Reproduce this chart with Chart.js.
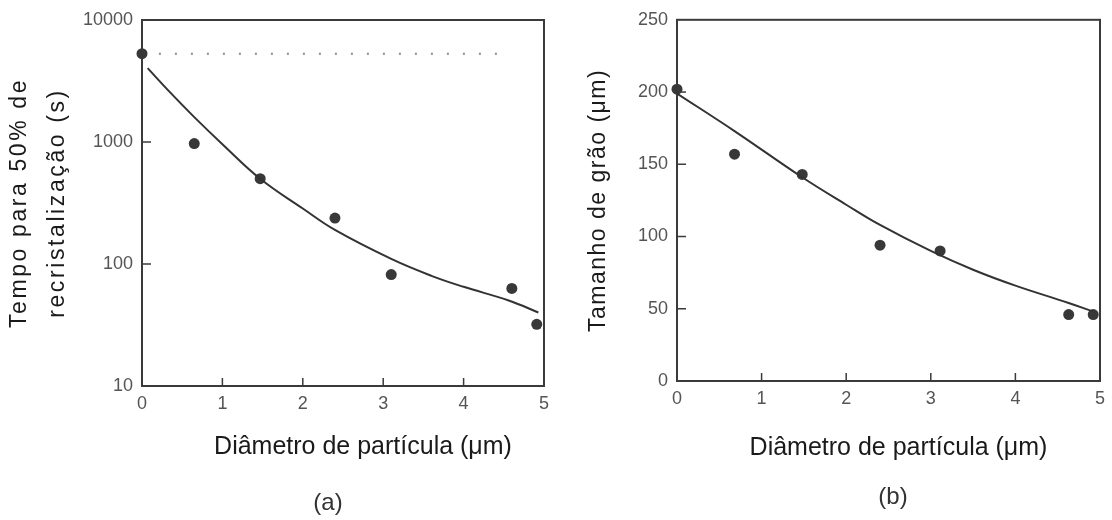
<!DOCTYPE html>
<html>
<head>
<meta charset="utf-8">
<script src="https://cdn.jsdelivr.net/npm/chart.js@4/dist/chart.umd.min.js"></script>
<style>
  html, body { margin: 0; padding: 0; background: #ffffff; }
  #wrap { position: relative; width: 1112px; height: 520px; background: #ffffff; }
  canvas { position: absolute; top: 0; }
  #ca { left: 0; }
  #cb { left: 556px; }
</style>
</head>
<body>
<div id="wrap">
  <canvas id="ca" width="556" height="520"></canvas>
  <canvas id="cb" width="556" height="520"></canvas>
</div>
<script>
// ---------- data: panel (a) ----------
const xA_points = [0, 0.65, 1.47, 2.40, 3.10, 4.60, 4.91];
const yA_points = [5300, 970, 500, 238, 82, 63, 32];
const xA_curve  = [0.07, 0.35, 0.65, 1.0, 1.47, 2.0, 2.4, 3.1, 3.6, 4.0, 4.57, 4.93];
const yA_curve  = [4030, 2550, 1600, 960, 500, 285, 190, 110, 80, 65, 50, 40];
const xA_ref    = [0.21, 4.57];
const yA_ref    = [5300, 5300];
const xA_ticks  = [0, 1, 2, 3, 4, 5];
const yA_ticks  = [10, 100, 1000, 10000];

// ---------- data: panel (b) ----------
const xB_points = [0, 0.68, 1.48, 2.40, 3.11, 4.63, 4.92];
const yB_points = [202, 157, 143, 94, 90, 46, 46];
const xB_curve  = [0, 0.68, 1.48, 2.0, 2.4, 3.0, 3.5, 4.0, 4.63, 4.92];
const yB_curve  = [199, 173, 141, 122, 108, 90, 77, 66, 54, 48];
const xB_ticks  = [0, 1, 2, 3, 4, 5];
const yB_ticks  = [0, 50, 100, 150, 200, 250];

// ---------- texts ----------
const yTitleA = ["Tempo para 50% de", "recristalização (s)"];
const yTitleB = "Tamanho de grão (μm)";
const xTitle  = "Diâmetro de partícula (μm)";
const labelA  = "(a)";
const labelB  = "(b)";

const FONT = "'Liberation Sans', Arial, Helvetica, sans-serif";
Chart.defaults.font.family = FONT;

// scale subclasses that allow letter-spaced / shifted axis titles
function spacedScale(Base, id) {
  class S extends Base {
    drawTitle() {
      const t = this.options.title;
      const ctx = this.ctx;
      ctx.save();
      if (t.letterSpacing) ctx.letterSpacing = t.letterSpacing;
      ctx.translate(t.dx || 0, t.dy || 0);
      super.drawTitle();
      ctx.restore();
    }
  }
  S.id = id;
  return S;
}
Chart.register(spacedScale(Chart.LinearScale, 'spacedLinear'));
Chart.register(spacedScale(Chart.LogarithmicScale, 'spacedLog'));

const toXY = (xs, ys) => xs.map((x, i) => ({ x: x, y: ys[i] }));

const decoPlugin = {
  id: 'deco',
  beforeDatasetsDraw(chart, args, o) {
    const { ctx, chartArea: a } = chart;
    ctx.save();
    ctx.strokeStyle = '#3a3a3a';
    ctx.lineWidth = 2;
    ctx.strokeRect(a.left, a.top, a.right - a.left, a.bottom - a.top);
    ctx.lineWidth = 1.5;
    const xs = chart.scales.x, ys = chart.scales.y;
    o.xInner.forEach(v => {
      const px = xs.getPixelForValue(v);
      ctx.beginPath(); ctx.moveTo(px, a.bottom); ctx.lineTo(px, a.bottom - 8); ctx.stroke();
    });
    o.yInner.forEach(v => {
      const py = ys.getPixelForValue(v);
      ctx.beginPath(); ctx.moveTo(a.left, py); ctx.lineTo(a.left + 9, py); ctx.stroke();
    });
    ctx.restore();
  },
  afterDraw(chart, args, o) {
    const ctx = chart.ctx;
    ctx.save();
    ctx.font = '24px ' + FONT;
    ctx.fillStyle = '#333333';
    ctx.textAlign = 'center';
    ctx.textBaseline = 'middle';
    ctx.fillText(o.label, o.lx, o.ly);
    ctx.restore();
  }
};

function makeChart(el, cfg) {
  return new Chart(document.getElementById(el), {
    type: 'scatter',
    data: { datasets: cfg.datasets },
    plugins: [decoPlugin],
    options: {
      responsive: false,
      animation: false,
      events: [],
      layout: { padding: cfg.padding },
      plugins: {
        legend: { display: false },
        tooltip: { enabled: false },
        deco: cfg.deco
      },
      scales: {
        x: {
          type: 'spacedLinear',
          min: 0, max: 5,
          afterBuildTicks: s => { s.ticks = cfg.xTicks.map(v => ({ value: v })); },
          afterFit: s => { s.height = cfg.xHeight; },
          grid: { display: false, drawTicks: false },
          border: { display: false },
          ticks: { padding: 7, color: '#555555', font: { size: 18 } },
          title: {
            display: true, text: xTitle, color: '#1a1a1a',
            font: { size: 25 }, padding: { top: 0, bottom: cfg.xTitlePad },
            dx: cfg.xTitleDx
          }
        },
        y: cfg.y
      }
    }
  });
}

// ---------- panel (a) ----------
makeChart('ca', {
  padding: { top: 20, right: 9, left: 0, bottom: 0 },
  xHeight: 134,
  xTicks: xA_ticks,
  xTitlePad: 58,
  xTitleDx: 20,
  deco: { xInner: [1, 2, 3, 4], yInner: [100, 1000], label: labelA, lx: 328, ly: 503 },
  datasets: [
    { data: toXY(xA_curve, yA_curve), showLine: true, pointRadius: 0, borderColor: '#333333',
      borderWidth: 2, tension: 0.4 },
    { data: toXY(xA_ref, yA_ref), showLine: true, pointRadius: 0, borderColor: '#8a8a8a',
      borderWidth: 2, borderDash: [2, 14] },
    { data: toXY(xA_points, yA_points), showLine: false, pointRadius: 5.5,
      backgroundColor: '#383838', borderColor: '#383838', borderWidth: 0, clip: false }
  ],
  y: {
    type: 'spacedLog',
    min: 10, max: 10000,
    afterBuildTicks: s => { s.ticks = yA_ticks.map(v => ({ value: v })); },
    afterFit: s => { s.width = 142; },
    grid: { display: false, drawTicks: false },
    border: { display: false },
    ticks: { padding: 9, color: '#555555', font: { size: 18 }, callback: v => String(v) },
    title: {
      display: true, text: yTitleA, color: '#1a1a1a',
      font: { size: 23, lineHeight: 1.65 }, padding: { top: 1, bottom: 0 },
      letterSpacing: '2.6px'
    }
  }
});

// ---------- panel (b) ----------
makeChart('cb', {
  padding: { top: 16, right: 6, left: 0, bottom: 0 },
  xHeight: 139,
  xTicks: xB_ticks,
  xTitlePad: 57,
  xTitleDx: 10,
  deco: { xInner: [1, 2, 3, 4], yInner: [50, 100, 150, 200], label: labelB, lx: 337, ly: 497 },
  datasets: [
    { data: toXY(xB_curve, yB_curve), showLine: true, pointRadius: 0, borderColor: '#333333',
      borderWidth: 2, tension: 0.4 },
    { data: toXY(xB_points, yB_points), showLine: false, pointRadius: 5.5,
      backgroundColor: '#383838', borderColor: '#383838', borderWidth: 0, clip: false }
  ],
  y: {
    type: 'spacedLinear',
    min: 0, max: 250,
    afterBuildTicks: s => { s.ticks = yB_ticks.map(v => ({ value: v })); },
    afterFit: s => { s.width = 121; },
    grid: { display: false, drawTicks: false },
    border: { display: false },
    ticks: { padding: 9, color: '#555555', font: { size: 18 } },
    title: {
      display: true, text: yTitleB, color: '#1a1a1a',
      font: { size: 23, lineHeight: 1.2 }, padding: { top: 29, bottom: 0 },
      letterSpacing: '1.5px'
    }
  }
});
</script>
</body>
</html>
